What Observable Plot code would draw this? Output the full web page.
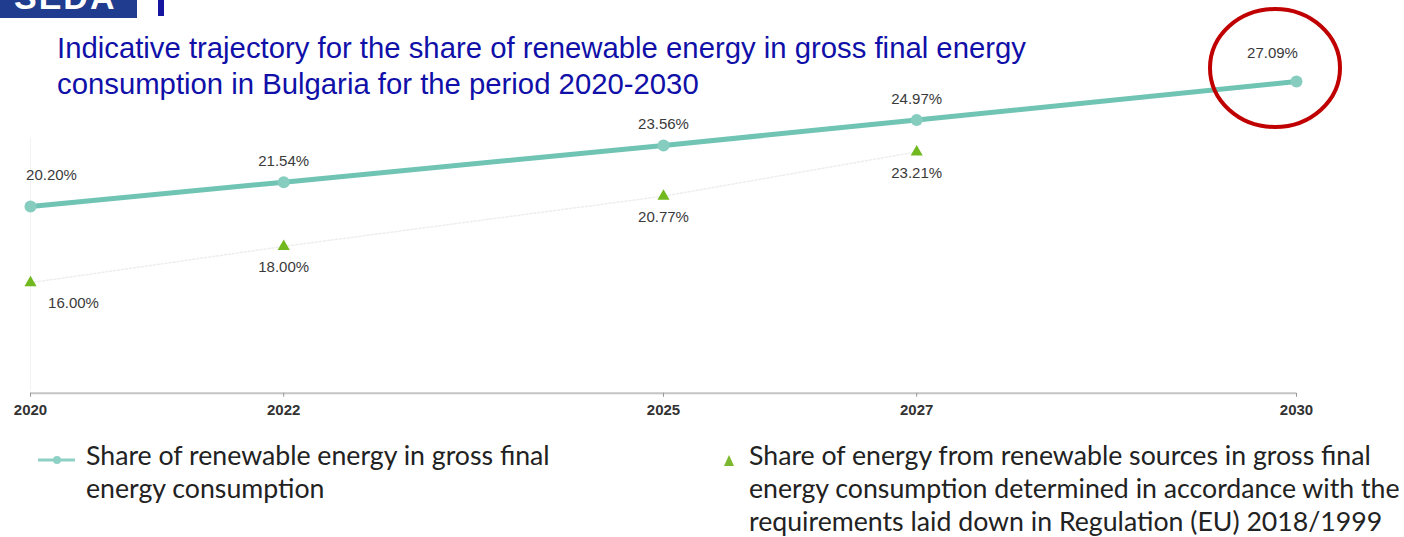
<!DOCTYPE html>
<html><head><meta charset="utf-8">
<script src="https://cdn.jsdelivr.net/npm/d3@7"></script>
<script src="https://cdn.jsdelivr.net/npm/@observablehq/plot@0.6"></script>
<style>
body{margin:0;background:#fff;width:1404px;height:537px;overflow:hidden;position:relative;font-family:"Liberation Sans",Arial,sans-serif}
#logo{position:absolute;left:0;top:0;width:137px;height:18px;background:#1f3c8e;overflow:hidden}
#logo span{position:absolute;left:14px;top:-22px;color:#fff;font:bold 34px "Liberation Sans",Arial;letter-spacing:2px}
#bar{position:absolute;left:158px;top:0;width:6px;height:16px;background:#1515a0}
#title{position:absolute;left:57px;top:30px;color:#1010a8;font:29.3px/36px "Liberation Sans",Arial,sans-serif;width:1200px;white-space:nowrap}
#chart{position:absolute;left:0;top:0}
.leg{position:absolute;font:26.7px/33px "Lato","Open Sans",sans-serif;color:#222}
#anno{position:absolute;left:0;top:0}
</style></head>
<body>
<div id="chart"></div>
<div id="logo"><span>SEDA</span></div>
<div id="bar"></div>
<div id="title">Indicative trajectory for the share of renewable energy in gross final energy<br>consumption in Bulgaria for the period 2020-2030</div>
<svg id="anno" width="1404" height="537"><ellipse cx="1275" cy="68" rx="65" ry="59" fill="none" stroke="#c00000" stroke-width="4"/></svg>
<div class="leg" id="leg1" style="left:38px;top:439px">
  <svg width="40" height="20" style="position:absolute;left:0;top:11px"><line x1="0" y1="10" x2="37" y2="10" stroke="#8fd0c5" stroke-width="3"/><circle cx="19" cy="10" r="4" fill="#8fd0c5"/></svg>
  <div style="position:absolute;left:48px;top:0;white-space:nowrap">Share of renewable energy in gross final<br>energy consumption</div>
</div>
<div class="leg" id="leg2" style="left:722px;top:439px">
  <svg width="16" height="20" style="position:absolute;left:0;top:13px"><polygon points="7,3 12,14 2,14" fill="#7cb82f"/></svg>
  <div style="position:absolute;left:27px;top:0;white-space:nowrap">Share of energy from renewable sources in gross final<br>energy consumption determined in accordance with the<br>requirements laid down in Regulation (EU) 2018/1999</div>
</div>
<script>
const years = [2020, 2022, 2025, 2027, 2030];
const shareTotal = [20.20, 21.54, 23.56, 24.97, 27.09];
const triYears = [2020, 2022, 2025, 2027];
const shareReg = [16.00, 18.00, 20.77, 23.21];
const tickLabels = ["2020", "2022", "2025", "2027", "2030"];

const lineData = years.map((y, i) => ({year: y, v: shareTotal[i]}));
const triData = triYears.map((y, i) => ({year: y, v: shareReg[i]}));
const fmt = d => d.v.toFixed(2) + "%";
const lblStyle = {x: "year", y: "v", text: fmt, fontSize: 15, fill: "#3a3a3a", style: "letter-spacing:1.3px"};

const chart = Plot.plot({
  width: 1404,
  height: 433,
  marginLeft: 30,
  marginRight: 108,
  marginTop: 64.5,
  marginBottom: 40.2,
  style: {fontFamily: "Liberation Sans, Arial, sans-serif", background: "transparent"},
  x: {domain: [2020, 2030], label: null},
  y: {domain: [9.9, 28], axis: null},
  marks: [
    Plot.ruleX([2020], {y1: 10, y2: 24, stroke: "#f2f2f2", strokeWidth: 1}),
    Plot.ruleY([9.9], {stroke: "#c4c4c4", strokeWidth: 2}),
    Plot.axisX({ticks: years, tickFormat: d => tickLabels[years.indexOf(d)], tickSize: 4, tickPadding: 7, stroke: "#999", fontWeight: "bold", fontSize: 15, fill: "#333", label: null}),
    Plot.line(triData, {x: "year", y: "v", stroke: "#eeeeee", strokeWidth: 1.5, strokeDasharray: "2,2"}),
    Plot.line(lineData, {x: "year", y: "v", stroke: "#6fc4b4", strokeWidth: 5}),
    Plot.dot(lineData, {x: "year", y: "v", r: 6, fill: "#86cdc0"}),
    Plot.dot(triData, {x: "year", y: "v", symbol: "triangle", r: 4.5, fill: "#72b81f"}),
    Plot.text(lineData.filter(d => d.year === 2020), {...lblStyle, dx: 21, dy: -31}),
    Plot.text(lineData.filter(d => d.year > 2020 && d.year < 2030), {...lblStyle, dy: -21}),
    Plot.text(lineData.filter(d => d.year === 2030), {...lblStyle, dx: -24, dy: -28}),
    Plot.text(triData.filter(d => d.year === 2020), {...lblStyle, dx: 43, dy: 21}),
    Plot.text(triData.filter(d => d.year > 2020), {...lblStyle, dy: 21})
  ]
});
document.getElementById("chart").appendChild(chart);
</script>
</body></html>
